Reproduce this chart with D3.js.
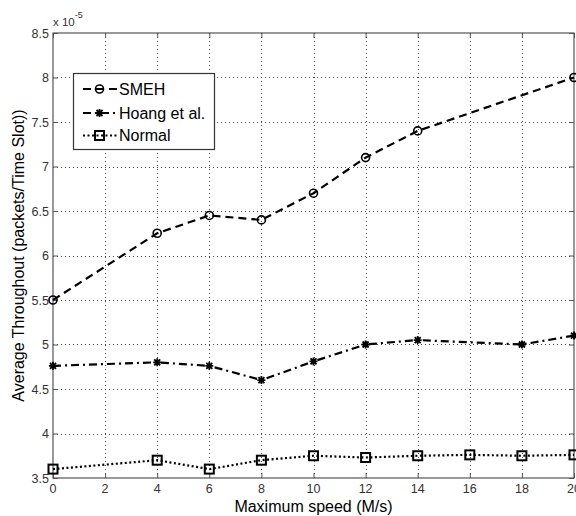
<!DOCTYPE html>
<html>
<head>
<meta charset="utf-8">
<script src="https://cdn.jsdelivr.net/npm/d3@7"></script>
<style>
  html, body { margin: 0; padding: 0; background: #fff; }
  svg { display: block; }
  .tick-label { font-family: "Liberation Sans Narrow", "Arial Narrow", "Liberation Sans", Arial, sans-serif; font-size: 12.5px; fill: #333; }
  .label { font-family: "Liberation Sans", Arial, Helvetica, sans-serif; font-size: 16px; fill: #000; }
</style>
</head>
<body>
<svg id="chart" width="576" height="516"></svg>
<script>
// Throughput values, in units of 1e-5 packets per time slot
const smehSpeed = [0, 4, 6, 8, 10, 12, 14, 20];
const smehValues = [5.5, 6.25, 6.45, 6.4, 6.7, 7.1, 7.4, 8.0];

const hoangSpeed = [0, 4, 6, 8, 10, 12, 14, 18, 20];
const hoangValues = [4.76, 4.8, 4.76, 4.6, 4.81, 5.0, 5.05, 5.0, 5.1];

const normalSpeed = [0, 4, 6, 8, 10, 12, 14, 16, 18, 20];
const normalValues = [3.6, 3.7, 3.6, 3.7, 3.75, 3.73, 3.75, 3.76, 3.75, 3.76];

const xTicks = [0, 2, 4, 6, 8, 10, 12, 14, 16, 18, 20];
const yTicks = [3.5, 4, 4.5, 5, 5.5, 6, 6.5, 7, 7.5, 8, 8.5];
const seriesNames = ["SMEH", "Hoang et al.", "Normal"];

const svg = d3.select("#chart");
const margin = { left: 53, right: 2, top: 33, bottom: 38 };
const W = 576, H = 516;
const x = d3.scaleLinear().domain([0, 20]).range([margin.left, W - margin.right]);
const y = d3.scaleLinear().domain([3.5, 8.5]).range([H - margin.bottom, margin.top]);
const x0 = x.range()[0], x1 = x.range()[1], y0 = y.range()[0], y1 = y.range()[1];

// dotted grid
const grid = svg.append("g").attr("stroke", "#444").attr("stroke-width", 1)
  .attr("stroke-dasharray", "1,3");
grid.selectAll(".gx").data(xTicks.slice(1, -1)).join("line")
  .attr("x1", d => Math.round(x(d)) + 0.5).attr("x2", d => Math.round(x(d)) + 0.5)
  .attr("y1", y1).attr("y2", y0);
grid.selectAll(".gy").data(yTicks.slice(1, -1)).join("line")
  .attr("y1", d => Math.round(y(d)) + 0.5).attr("y2", d => Math.round(y(d)) + 0.5)
  .attr("x1", x0).attr("x2", x1);

// axes (ticks pointing inward on all four sides)
const tickLen = 5;
const xAxisB = d3.axisTop(x).tickValues(xTicks).tickSize(tickLen).tickFormat("");
const xAxisT = d3.axisBottom(x).tickValues(xTicks).tickSize(tickLen).tickFormat("");
const yAxisL = d3.axisRight(y).tickValues(yTicks).tickSize(tickLen).tickFormat("");
const yAxisR = d3.axisLeft(y).tickValues(yTicks).tickSize(tickLen).tickFormat("");

function styleAxis(g) {
  g.select(".domain").remove();
  g.selectAll(".tick line").attr("stroke", "#555");
}
svg.append("g").attr("transform", `translate(0,${y0})`).call(xAxisB).call(styleAxis);
svg.append("g").attr("transform", `translate(0,${y1})`).call(xAxisT).call(styleAxis);
svg.append("g").attr("transform", `translate(${x0},0)`).call(yAxisL).call(styleAxis);
svg.append("g").attr("transform", `translate(${x1},0)`).call(yAxisR).call(styleAxis);

svg.append("rect").attr("x", x0).attr("y", y1).attr("width", x1 - x0).attr("height", y0 - y1)
  .attr("fill", "none").attr("stroke", "#555").attr("stroke-width", 1.2);

// tick labels
svg.append("g").selectAll("text").data(xTicks).join("text")
  .attr("class", "tick-label").attr("x", d => x(d)).attr("y", y0 + 15)
  .attr("text-anchor", "middle").text(d => d);
svg.append("g").selectAll("text").data(yTicks).join("text")
  .attr("class", "tick-label").attr("x", x0 - 4).attr("y", d => y(d) + 4.5)
  .attr("text-anchor", "end").text(d => d);

// exponent label
const expo = svg.append("text").attr("class", "tick-label").attr("x", x0).attr("y", 26)
  .style("font-size", "11.5px");
expo.append("tspan").text("x 10");
expo.append("tspan").attr("dy", -8).style("font-size", "9px").text("-5");

// axis titles
svg.append("text").attr("class", "label").attr("x", (x0 + x1) / 2).attr("y", 512)
  .attr("text-anchor", "middle").text("Maximum speed (M/s)");
svg.append("text").attr("class", "label")
  .attr("transform", `translate(24,${(y0 + y1) / 2}) rotate(-90)`)
  .attr("text-anchor", "middle").text("Average Throughout (packets/Time Slot))");

// series
const line = d3.line().x(d => x(d[0])).y(d => y(d[1]));
const smeh = smehSpeed.map((s, i) => [s, smehValues[i]]);
const hoang = hoangSpeed.map((s, i) => [s, hoangValues[i]]);
const normal = normalSpeed.map((s, i) => [s, normalValues[i]]);

const styles = [
  { data: smeh, dash: "8,5", marker: "circle" },
  { data: hoang, dash: "8,4,2,4", marker: "star" },
  { data: normal, dash: "2,2.5", marker: "square" }
];

function drawMarker(g, kind, cx, cy) {
  if (kind === "circle") {
    g.append("circle").attr("cx", cx).attr("cy", cy).attr("r", 4)
      .attr("fill", "none").attr("stroke", "#000").attr("stroke-width", 1.6);
  } else if (kind === "square") {
    g.append("rect").attr("x", cx - 4.5).attr("y", cy - 4.5).attr("width", 9).attr("height", 9)
      .attr("fill", "none").attr("stroke", "#000").attr("stroke-width", 2);
  } else {
    const r = 4;
    const p = `M${cx - r},${cy}L${cx + r},${cy}M${cx},${cy - r}L${cx},${cy + r}` +
      `M${cx - 3},${cy - 3}L${cx + 3},${cy + 3}M${cx - 3},${cy + 3}L${cx + 3},${cy - 3}`;
    g.append("path").attr("d", p).attr("stroke", "#000").attr("stroke-width", 1.8);
    g.append("circle").attr("cx", cx).attr("cy", cy).attr("r", 2).attr("fill", "#000");
  }
}

const plot = svg.append("g");
styles.forEach(s => {
  plot.append("path").datum(s.data).attr("d", line)
    .attr("fill", "none").attr("stroke", "#000").attr("stroke-width", 2.2)
    .attr("stroke-dasharray", s.dash);
  s.data.forEach(d => drawMarker(plot, s.marker, x(d[0]), y(d[1])));
});

// legend
const lg = svg.append("g");
lg.append("rect").attr("x", 73.5).attr("y", 73.5).attr("width", 141).attr("height", 76)
  .attr("fill", "#fff").attr("stroke", "#333").attr("stroke-width", 1.2);
const rowsY = [89, 113, 135.5];
styles.forEach((s, i) => {
  const yy = rowsY[i];
  lg.append("line").attr("x1", 83).attr("x2", 117).attr("y1", yy).attr("y2", yy)
    .attr("stroke", "#000").attr("stroke-width", 2.2).attr("stroke-dasharray", s.dash);
  drawMarker(lg, s.marker, 99.5, yy);
  lg.append("text").attr("class", "label").attr("x", 119).attr("y", yy + 5.8).text(seriesNames[i]);
});
</script>
</body>
</html>
